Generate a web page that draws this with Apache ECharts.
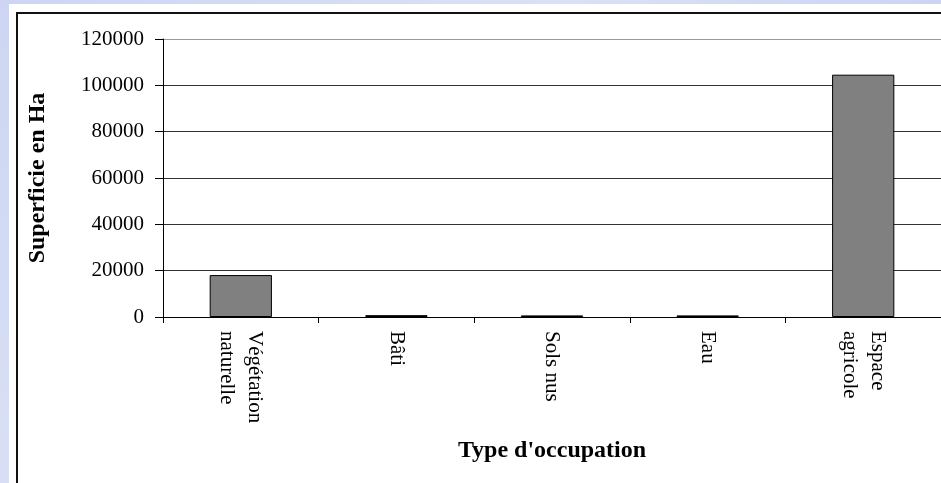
<!DOCTYPE html>
<html>
<head>
<meta charset="utf-8">
<script src="https://cdn.jsdelivr.net/npm/echarts@6/dist/echarts.min.js"></script>
<style>
  html, body { margin: 0; padding: 0; width: 941px; height: 483px; overflow: hidden;
    background: linear-gradient(135deg, #cdd5f2 0%, #dae1f6 40%, #c9d3f1 70%, #d6ddf5 100%); }
  #panel { position: absolute; left: 9px; top: 4px; width: 932px; height: 479px; background: #ffffff; }
  #frame { position: absolute; left: 16px; top: 12px; width: 925px; height: 471px;
    border-left: 2px solid #111; border-top: 2px solid #111; box-sizing: border-box; }
  #chart { position: absolute; left: 0; top: 0; width: 941px; height: 483px; }
</style>
</head>
<body>
<div id="panel"></div>
<div id="frame"></div>
<div id="chart"></div>
<script>
const categories = ["Végétation\nnaturelle", "Bâti", "Sols nus", "Eau", "Espace\nagricole"];
const superficie = [18100, 800, 700, 700, 104600];
const yTicks = { min: 0, max: 120000, interval: 20000 };
const yTitle = "Superficie en Ha";
const xTitle = "Type d'occupation";

const serif = "'Liberation Serif', 'Times New Roman', serif";
const chart = echarts.init(document.getElementById('chart'), null, { renderer: 'canvas' });
chart.setOption({
  backgroundColor: 'transparent',
  animation: false,
  grid: { left: 163, right: 0, top: 39, bottom: 166, containLabel: false },
  xAxis: {
    type: 'category',
    data: categories,
    name: xTitle,
    nameLocation: 'middle',
    nameGap: 122,
    nameTextStyle: { fontFamily: serif, fontWeight: 'bold', fontSize: 24, color: '#000' },
    axisLine: { lineStyle: { color: '#000', width: 1 } },
    axisTick: { show: true, length: 6, lineStyle: { color: '#000' } },
    axisLabel: { rotate: -90, margin: 14, fontFamily: serif, fontSize: 21, color: '#000', lineHeight: 28 },
    splitLine: { show: false }
  },
  yAxis: {
    type: 'value',
    min: yTicks.min,
    max: yTicks.max,
    interval: yTicks.interval,
    name: yTitle,
    nameLocation: 'middle',
    nameGap: 113,
    nameRotate: 90,
    nameTextStyle: { fontFamily: serif, fontWeight: 'bold', fontSize: 24, color: '#000' },
    axisLine: { show: true, lineStyle: { color: '#000', width: 1 } },
    axisTick: { show: true, length: 8, lineStyle: { color: '#000' } },
    axisLabel: { margin: 19, fontFamily: serif, fontSize: 21, color: '#000', formatter: v => String(v) },
    splitLine: { show: true, lineStyle: { color: ['#000', '#333', '#333', '#333', '#333', '#333', '#999'], width: 1 } }
  },
  series: [{
    type: 'bar',
    data: superficie,
    barWidth: '40%',
    itemStyle: { color: '#808080', borderColor: '#000', borderWidth: 1 }
  }]
});
</script>
</body>
</html>
